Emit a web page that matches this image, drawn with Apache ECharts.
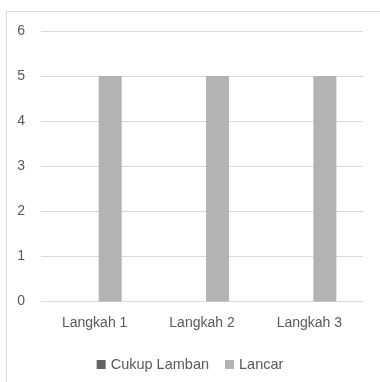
<!DOCTYPE html>
<html>
<head>
<meta charset="utf-8">
<script src="https://cdn.jsdelivr.net/npm/echarts@6/dist/echarts.min.js"></script>
<style>
html,body{margin:0;padding:0;background:#fff;}
#chart{width:380px;height:382px;}
</style>
</head>
<body>
<div id="chart"></div>
<script>
const categories = ['Langkah 1', 'Langkah 2', 'Langkah 3'];
const cukupLamban = [0, 0, 0];
const lancar = [5, 5, 5];
const yTicks = [0, 1, 2, 3, 4, 5, 6];

const FONT = 'Liberation Sans';
const chart = echarts.init(document.getElementById('chart'), null, {renderer: 'canvas'});
chart.setOption({
  animation: false,
  graphic: [{
    type: 'rect',
    shape: {x: 6.5, y: 11.5, width: 400, height: 400},
    style: {fill: 'none', stroke: '#d9d9d9', lineWidth: 1},
    silent: true
  }],
  grid: {left: 41, right: 17, top: 31, bottom: 80.5, containLabel: false},
  legend: {
    top: 352,
    left: 'center',
    itemWidth: 9,
    itemHeight: 9,
    itemGap: 16,
    icon: 'rect',
    textStyle: {color: '#595959', fontSize: 14.5, fontFamily: FONT},
    data: ['Cukup Lamban', 'Lancar']
  },
  xAxis: {
    type: 'category',
    data: categories,
    axisLine: {show: true, lineStyle: {color: '#d9d9d9'}},
    axisTick: {show: false},
    axisLabel: {color: '#595959', fontSize: 14, fontFamily: FONT, margin: 15}
  },
  yAxis: {
    type: 'value',
    min: yTicks[0],
    max: yTicks[yTicks.length - 1],
    interval: 1,
    axisLine: {show: false},
    axisTick: {show: false},
    splitLine: {lineStyle: {color: '#d9d9d9'}},
    axisLabel: {color: '#595959', fontSize: 14, fontFamily: FONT, margin: 16}
  },
  series: [
    {name: 'Cukup Lamban', type: 'bar', data: cukupLamban, barWidth: 23, barGap: '35%', itemStyle: {color: '#636363'}},
    {name: 'Lancar', type: 'bar', data: lancar, barWidth: 23, barGap: '35%', itemStyle: {color: '#b3b3b3'}}
  ]
});
</script>
</body>
</html>
